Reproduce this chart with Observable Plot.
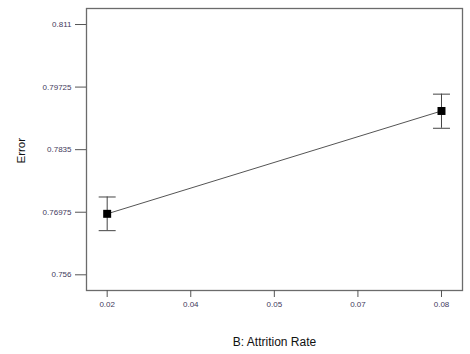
<!DOCTYPE html>
<html>
<head>
<meta charset="utf-8">
<script src="https://cdn.jsdelivr.net/npm/d3@7"></script>
<script src="https://cdn.jsdelivr.net/npm/@observablehq/plot@0.6"></script>
<style>
  html, body { margin: 0; padding: 0; background: #fff; }
  #chart svg { display: block; }
</style>
</head>
<body>
<div id="chart"></div>
<script>
const attritionRate = [0.02, 0.08];
const errorMean = [0.7694, 0.7920];
const errorLow = [0.7657, 0.7882];
const errorHigh = [0.7731, 0.7957];
const xTicks = [0.02, 0.035, 0.05, 0.065, 0.08];
const xTickLabels = ["0.02", "0.04", "0.05", "0.07", "0.08"];
const yTicks = [0.756, 0.76975, 0.7835, 0.79725, 0.811];
const yTickLabels = ["0.756", "0.76975", "0.7835", "0.79725", "0.811"];

const data = attritionRate.map((x, i) => ({x, y: errorMean[i], lo: errorLow[i], hi: errorHigh[i]}));

const cap = {
  draw(context) {
    context.moveTo(-8.5, 0);
    context.lineTo(8.5, 0);
  }
};

const plot = Plot.plot({
  width: 470,
  height: 354,
  marginLeft: 86,
  marginRight: 8,
  marginTop: 8,
  marginBottom: 64,
  style: {fontFamily: "'Liberation Sans', Arial, sans-serif", background: "#fff"},
  x: {domain: [0.01629, 0.08377]},
  y: {domain: [0.75255, 0.81452]},
  marks: [
    Plot.frame({stroke: "#6b6b6b", strokeWidth: 1.3}),
    Plot.axisX({
      ticks: xTicks,
      tickFormat: (d) => xTickLabels[xTicks.indexOf(d)],
      tickSize: 7,
      tickPadding: 4,
      fontSize: 8,
      stroke: "#555",
      fill: "#3f3a5c",
      label: "B: Attrition Rate",
      labelAnchor: "center",
      labelArrow: "none",
      labelOffset: 55
    }),
    Plot.axisY({
      ticks: yTicks,
      tickFormat: (d) => yTickLabels[yTicks.indexOf(d)],
      tickSize: 11,
      tickPadding: 4,
      fontSize: 8,
      stroke: "#555",
      fill: "#3f3a5c",
      label: null
    }),
    Plot.text(["Error"], {
      frameAnchor: "left",
      dx: -65,
      dy: 14,
      rotate: -90,
      fontSize: 11.5,
      fill: "#111"
    }),
    Plot.line(data, {x: "x", y: "y", stroke: "#555", strokeWidth: 1}),
    Plot.ruleX(data, {x: "x", y1: "lo", y2: "hi", stroke: "#444", strokeWidth: 1}),
    Plot.dot(data, {x: "x", y: "lo", symbol: cap, stroke: "#444", strokeWidth: 1, r: 3}),
    Plot.dot(data, {x: "x", y: "hi", symbol: cap, stroke: "#444", strokeWidth: 1, r: 3}),
    Plot.dot(data, {x: "x", y: "y", symbol: "square", fill: "#000", stroke: "none", r: 4.5})
  ]
});
plot.querySelectorAll("g[aria-label='x-axis label']").forEach(el => {
  el.setAttribute("font-size", 12);
  el.setAttribute("fill", "#111");
});
document.getElementById("chart").appendChild(plot);
</script>
</body>
</html>
